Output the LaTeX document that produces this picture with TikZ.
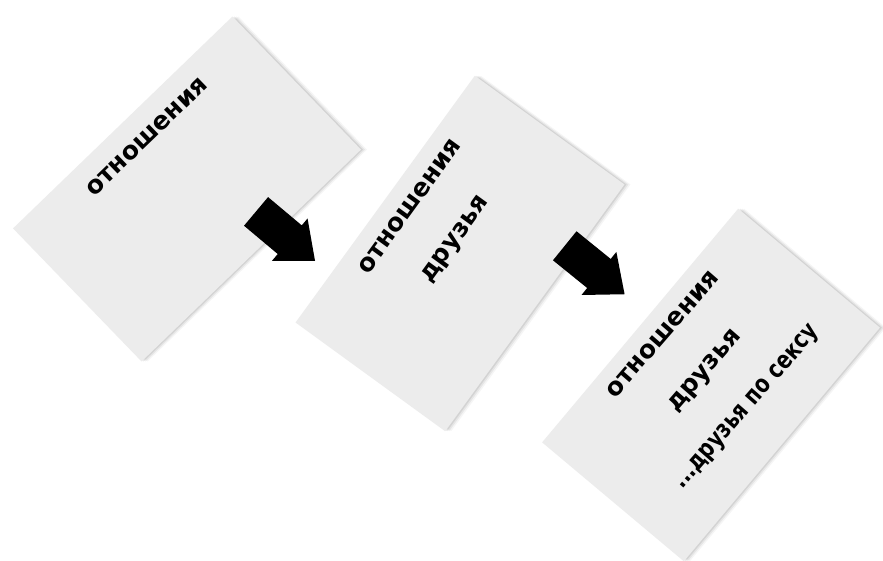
\documentclass[tikz,border=0pt]{standalone}
\usepackage{fontspec}
\newfontfamily\cardfont{DejaVu Sans}
\usetikzlibrary{shapes.arrows,shadows}
\definecolor{paper}{RGB}{236,236,236}
\begin{document}
\begin{tikzpicture}[x=1pt,y=1pt,
 sheet/.style={fill=paper,minimum width=305pt,minimum height=185pt,inner sep=0pt,
  general shadow={fill=black,opacity=.04,shadow xshift=6pt},
  general shadow={fill=black,opacity=.06,shadow xshift=4pt},
  general shadow={fill=black,opacity=.08,shadow xshift=2pt}},
 cardtext/.style={align=center,inner sep=0pt,font=\cardfont\bfseries\fontsize{25}{55}\selectfont},
 bigarrow/.style={single arrow,fill=black,inner xsep=0pt,inner ysep=18.5pt,single arrow head extend=9pt,
  single arrow tip angle=80,minimum height=77pt}]
\useasboundingbox[fill=white] (0,0) rectangle (883,-561);
\node[sheet,rotate=44] (sheetA) at (187,-189) {};
\node[sheet,rotate=54] (sheetB) at (460,-253.5) {};
\node[sheet,rotate=50] (sheetC) at (711,-385) {};
\node[cardtext,rotate=44] (textA) at (147,-137) {отношения};
\node[cardtext,rotate=54] (textB) at (434,-224) {отношения\\друзья};
\node[cardtext,rotate=49] (textC) at (706,-372) {отношения\\друзья\\{\addfontfeatures{FakeStretch=0.8}...друзья по сексу}};
\node[bigarrow,rotate=-40] (arrowA) at (277,-229) {};
\node[bigarrow,rotate=-39] (arrowB) at (586,-263) {};
\end{tikzpicture}
\end{document}
